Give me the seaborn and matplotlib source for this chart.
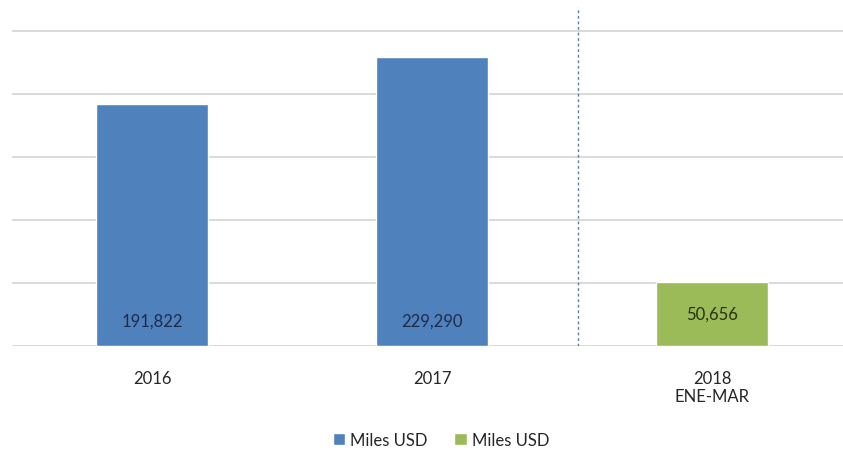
import matplotlib
matplotlib.use("Agg")
import matplotlib.pyplot as plt
import seaborn as sns
import pandas as pd

categories = ["2016", "2017", "2018\nENE-MAR"]
values = [191822, 229290, 50656]
series = ["Miles USD", "Miles USD", "Miles USD"]
series_key = ["a", "a", "b"]
colors = {"a": "#4F81BD", "b": "#9BBB59"}
label_colors = ["#1E2C4A", "#1E2C4A", "#25330F"]
value_labels = ["191,822", "229,290", "50,656"]

sns.set_theme(style="white")
plt.rcParams["font.family"] = ["Lato", "DejaVu Sans"]

df = pd.DataFrame({"cat": categories, "val": values, "key": series_key})

W, H = 843, 452
fig = plt.figure(figsize=(W / 100, H / 100), dpi=100)
left_px, right_px, top_px, bottom_px = 12, 843, 8, 347
ax = fig.add_axes([left_px / W, 1 - bottom_px / H, (right_px - left_px) / W, (bottom_px - top_px) / H])

sns.barplot(data=df, x="cat", y="val", hue="key", palette=colors, dodge=False,
            width=0.4, ax=ax, legend=False, saturation=1, zorder=3)

ax.set_xlim(-0.5, -0.5 + (right_px - left_px) / 280)
ax.set_ylim(0, (bottom_px - top_px) / 63 * 50000)
ax.set_yticks([0, 50000, 100000, 150000, 200000, 250000])
ax.yaxis.grid(True, color="#D9D9D9", linewidth=1.4, zorder=0)
ax.set_axisbelow(True)
ax.tick_params(axis="y", left=False, labelleft=False)
ax.tick_params(axis="x", bottom=False, labelsize=12, colors="#262626", pad=11)
ax.set_xlabel("")
ax.set_ylabel("")
for s in ax.spines.values():
    s.set_visible(False)

# separator line
ax.axvline(1.52, color="#5B7FA8", linestyle=(0, (2, 2)), linewidth=1.0, zorder=2)

offsets_px = [25, 25, 32]
for i, (lab, c, off) in enumerate(zip(value_labels, label_colors, offsets_px)):
    ax.annotate(lab, xy=(i, 0), xytext=(0, off), textcoords="offset pixels",
                ha="center", va="center", fontsize=12, color=c, zorder=5)

from matplotlib.patches import Patch
handles = [Patch(facecolor=colors["a"]), Patch(facecolor=colors["b"])]
fig.legend(handles, ["Miles USD", "Miles USD"], loc="center", bbox_to_anchor=(441 / W, 1 - 441 / H),
           ncol=2, frameon=False, fontsize=12, handlelength=0.75, handleheight=0.75,
           handletextpad=0.3, columnspacing=1.6, labelcolor="#262626")

fig.savefig("out.png", dpi=100)
